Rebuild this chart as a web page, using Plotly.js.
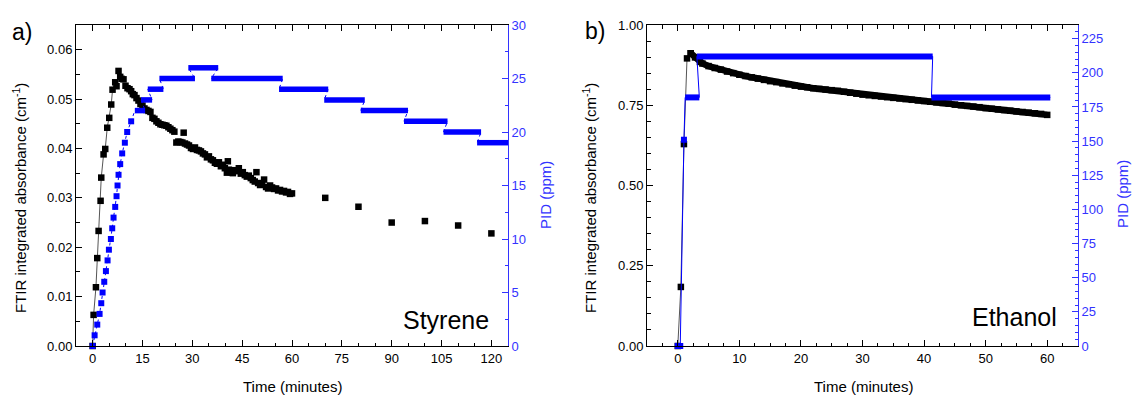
<!DOCTYPE html>
<html><head><meta charset="utf-8">
<script src="https://cdn.plot.ly/plotly-3.0.1.min.js"></script>
<style>html,body{margin:0;padding:0;background:#fff}#chart{width:1132px;height:395px}</style>
</head><body><div id="chart"></div>
<script>
// ---------- Panel a: Styrene ----------
const styreneT = [0, 0.3, 1.0, 1.4, 1.8, 2.4, 2.6, 3.3, 3.8, 4.4, 5.0, 5.6, 6.0, 6.8, 7.2, 7.8,
  8.3, 8.7, 9.3, 9.9, 10.5, 11.1, 11.6, 12.1, 12.6, 13.2, 13.8, 14.4, 15.0, 15.6, 16.2, 16.8, 17.4,
  18.0, 18.6, 19.2, 19.8, 20.4, 21.0, 21.6, 22.2, 22.8, 23.4, 24.0, 24.6, 25.2, 25.8, 26.4, 27.0,
  27.4, 27.8, 28.4, 29.0, 29.6, 30.2, 30.8, 31.4, 32.0, 32.6, 33.2, 33.8, 34.4, 35.0, 35.6, 36.2,
  36.8, 37.4, 38.0, 38.6, 39.2, 39.8, 40.4, 40.7, 41.0, 41.6, 42.2, 42.8, 43.4, 44.0, 44.6, 45.2,
  45.8, 46.4, 47.0, 47.6, 48.2, 48.8, 49.3, 49.8, 50.4, 51.0, 51.6, 52.2, 52.8, 53.4, 54.0, 54.6,
  55.2, 55.8, 56.4, 57.0, 57.6, 58.2, 58.8, 59.4, 60.0];
const styreneV = [0.0000, 0.0063, 0.0119, 0.0178, 0.0233, 0.0294, 0.0341, 0.0388, 0.0399, 0.0442,
  0.0462, 0.0489, 0.0519, 0.0534, 0.0526, 0.0557,
  0.0545, 0.0541, 0.0540, 0.0527, 0.0522, 0.0520, 0.0516, 0.0510, 0.0508, 0.0502, 0.0497, 0.0490,
  0.0487, 0.0481, 0.0478, 0.0476, 0.0474, 0.0462, 0.0460, 0.0455, 0.0452, 0.0449, 0.0448, 0.0447,
  0.0446, 0.0443, 0.0440, 0.0437, 0.0434, 0.0412, 0.0414, 0.0413, 0.0412, 0.0432, 0.0410, 0.0408,
  0.0406, 0.0401, 0.0399, 0.0402, 0.0397, 0.0396, 0.0394, 0.0390, 0.0388, 0.0382, 0.0384, 0.0378,
  0.0376, 0.0371, 0.0369, 0.0372, 0.0364, 0.0367, 0.0360, 0.0351, 0.0374, 0.0357, 0.0352, 0.0350,
  0.0356, 0.0354, 0.0360, 0.0349, 0.0352, 0.0346, 0.0343, 0.0345, 0.0340, 0.0336, 0.0333, 0.0352,
  0.0330, 0.0326, 0.0329, 0.0337, 0.0322, 0.0319, 0.0325, 0.0321, 0.0318, 0.0319, 0.0315, 0.0316,
  0.0313, 0.0314, 0.0311, 0.0312, 0.0308, 0.0309];
const styreneLateT = [70, 80, 90, 100, 110, 120];
const styreneLateV = [0.0300, 0.0282, 0.0250, 0.0253, 0.0244, 0.0228];
const styrenePeakIndex = 15;

const styrenePidRampT = [0, 0.6, 1.4, 2.1, 2.6, 3.0, 3.5, 4.0, 4.5, 4.9, 5.5, 5.9, 6.3, 6.8, 7.2, 7.5, 7.8, 8.3, 8.9, 9.7, 10.4, 11.6];
const styrenePidRampV = [0, 1, 2, 3, 4, 5, 6, 7, 8, 9, 10, 11, 12, 13, 14, 15, 16, 17, 18, 19, 20, 21];
const styrenePidStepStart = [12.7, 14.6, 16.6, 20.1, 28.8, 35.7, 56.1, 69.7, 80.7, 93.7, 105.6, 115.7];
const styrenePidStepEnd   = [15.8, 17.9, 21.3, 30.8, 37.8, 57.2, 70.9, 81.9, 94.9, 106.8, 116.9, 125];
const styrenePidStepV     = [22, 23, 24, 25, 26, 25, 24, 23, 22, 21, 20, 19];

// ---------- Panel b: Ethanol ----------
const ethanolRiseT = [0, 0.5, 1.0, 1.5, 2.1];
const ethanolRiseV = [0.000, 0.184, 0.629, 0.896, 0.912];
const ethanolT = [2.1, 2.8, 3.6, 4, 5, 6, 7, 8, 9, 10, 11, 12, 13, 14, 15, 16, 17, 18, 19, 20, 21, 22,
  23, 24, 25, 26, 27, 28, 29, 30, 31, 32, 33, 34, 35, 36, 37, 38, 39, 40, 41, 42, 43, 44, 45, 46, 47,
  48, 49, 50, 51, 52, 53, 54, 55, 56, 57, 58, 59, 60];
const ethanolV = [0.912, 0.899, 0.885, 0.880, 0.872, 0.866, 0.861, 0.855, 0.850, 0.845, 0.841, 0.837,
  0.833, 0.829, 0.825, 0.822, 0.818, 0.815, 0.811, 0.808, 0.806, 0.803, 0.801, 0.799, 0.797, 0.795,
  0.792, 0.789, 0.786, 0.783, 0.781, 0.779, 0.777, 0.775, 0.773, 0.771, 0.769, 0.767, 0.765, 0.763,
  0.761, 0.759, 0.757, 0.755, 0.752, 0.750, 0.748, 0.746, 0.744, 0.741, 0.739, 0.737, 0.735, 0.733,
  0.731, 0.729, 0.727, 0.725, 0.723, 0.720];
const ethanolPidRampT = [0, 0.4, 1.0];
const ethanolPidRampV = [0, 0, 151];
const ethanolPidStepStart = [1.2, 3.1, 41.2];
const ethanolPidStepEnd   = [3.5, 41.4, 60.5];
const ethanolPidStepV     = [182, 212, 182];

// ---------- helpers ----------
const BLUE = '#0000ff';
const AXBLUE = '#3333ff';
const FONT = '"Liberation Sans", Arial, Helvetica, sans-serif';

function segments(s, e, v) {
  const x = [], y = [];
  for (let i = 0; i < s.length; i++) { x.push(s[i], e[i], null); y.push(v[i], v[i], null); }
  return {x, y};
}
function connector(rt, rv, s, e, v) {
  const x = rt.slice(), y = rv.slice();
  for (let i = 0; i < s.length; i++) { x.push(s[i], e[i]); y.push(v[i], v[i]); }
  return {x, y};
}

const segA = segments(styrenePidStepStart, styrenePidStepEnd, styrenePidStepV);
const conA = connector(styrenePidRampT, styrenePidRampV, styrenePidStepStart, styrenePidStepEnd, styrenePidStepV);
const segB = segments(ethanolPidStepStart, ethanolPidStepEnd, ethanolPidStepV);
const conB = connector(ethanolPidRampT, ethanolPidRampV, ethanolPidStepStart, ethanolPidStepEnd, ethanolPidStepV);

const traces = [
  // Panel a
  {x: styreneT.slice(0, styrenePeakIndex + 1), y: styreneV.slice(0, styrenePeakIndex + 1), xaxis: 'x', yaxis: 'y',
   mode: 'lines', line: {color: '#555', width: 1}, hoverinfo: 'skip'},
  {x: styreneT.concat(styreneLateT), y: styreneV.concat(styreneLateV), xaxis: 'x', yaxis: 'y',
   mode: 'markers', marker: {symbol: 'square', size: 6.5, color: '#000'}, cliponaxis: false},
  {x: conA.x, y: conA.y, xaxis: 'x', yaxis: 'y2', mode: 'lines', line: {color: BLUE, width: 1, dash: 'dot'}},
  {x: segA.x, y: segA.y, xaxis: 'x', yaxis: 'y2', mode: 'lines', line: {color: BLUE, width: 5.5}},
  {x: styrenePidRampT, y: styrenePidRampV, xaxis: 'x', yaxis: 'y2', mode: 'markers',
   marker: {symbol: 'square', size: 6, color: BLUE}, cliponaxis: false},
  // Panel b
  {x: ethanolRiseT, y: ethanolRiseV, xaxis: 'x2', yaxis: 'y3', mode: 'lines+markers',
   line: {color: '#555', width: 1}, marker: {symbol: 'square', size: 6.5, color: '#000'}, cliponaxis: false},
  {x: ethanolT, y: ethanolV, xaxis: 'x2', yaxis: 'y3', mode: 'lines+markers',
   line: {color: '#000', width: 6.5}, marker: {symbol: 'square', size: 6.5, color: '#000'}},
  {x: conB.x, y: conB.y, xaxis: 'x2', yaxis: 'y4', mode: 'lines', line: {color: BLUE, width: 1}},
  {x: segB.x, y: segB.y, xaxis: 'x2', yaxis: 'y4', mode: 'lines', line: {color: BLUE, width: 6}},
  {x: ethanolPidRampT, y: ethanolPidRampV, xaxis: 'x2', yaxis: 'y4', mode: 'markers',
   marker: {symbol: 'square', size: 6, color: BLUE}, cliponaxis: false}
];

const W = 1132, H = 395;
const yDom = [1 - 346 / H, 1 - 25 / H];
function xAxis(domain, range, dtick, minor, anchor) {
  return {domain, range, anchor, dtick, tick0: 0, ticks: 'inside', ticklen: 6, tickwidth: 1, tickcolor: '#000',
    showline: true, linecolor: '#000', linewidth: 1, mirror: 'ticks', showgrid: false, zeroline: false,
    automargin: false, tickfont: {family: FONT, size: 13, color: '#000'},
    minor: {dtick: minor, tick0: 0, ticks: 'inside', ticklen: 3.5, tickcolor: '#000', showgrid: false}};
}
function yAxis(range, dtick, minor, anchor, fmt, color, side, overlaying) {
  const a = {domain: yDom, range, anchor, dtick, tick0: 0, ticks: 'inside', ticklen: 6, tickwidth: 1, tickcolor: color,
    showline: true, linecolor: color, linewidth: 1, mirror: false, showgrid: false, zeroline: false,
    automargin: false, tickfont: {family: FONT, size: 13, color}, side,
    minor: {dtick: minor, tick0: 0, ticks: 'inside', ticklen: 3.5, tickcolor: color, showgrid: false}};
  if (fmt) a.tickformat = fmt;
  if (overlaying) a.overlaying = overlaying;
  return a;
}
function ann(px, py, text, size, color, angle, xanchor) {
  return {x: px / W, y: 1 - py / H, xref: 'paper', yref: 'paper', text, showarrow: false,
    font: {family: FONT, size, color}, textangle: angle || 0, xanchor: xanchor || 'center', yanchor: 'middle'};
}

const layout = {
  width: W, height: H, margin: {l: 0, r: 0, t: 0, b: 0}, showlegend: false,
  paper_bgcolor: '#fff', plot_bgcolor: '#fff', font: {family: FONT},
  xaxis: xAxis([76 / W, 508 / W], [-5, 125], 15, 5, 'y'),
  yaxis: yAxis([0, 0.065], 0.01, 0.005, 'x', '.2f', '#000', 'left'),
  yaxis2: yAxis([0, 30], 5, 2.5, 'x', null, AXBLUE, 'right', 'y'),
  xaxis2: xAxis([647 / W, 1078 / W], [-5, 65], 10, 2.5, 'y3'),
  yaxis3: yAxis([0, 1], 0.25, 0.05, 'x2', '.2f', '#000', 'left'),
  yaxis4: yAxis([0, 235], 25, 5, 'x2', null, AXBLUE, 'right', 'y3'),
  annotations: [
    ann(22, 32, 'a)', 23, '#000'),
    ann(595, 31, 'b)', 23, '#000'),
    ann(491, 320, 'Styrene', 25, '#000', 0, 'right'),
    ann(1059, 317, 'Ethanol', 25, '#000', 0, 'right'),
    ann(19, 198, 'FTIR integrated absorbance (cm<sup>-1</sup>)', 15, '#000', -90),
    ann(589, 198, 'FTIR integrated absorbance (cm<sup>-1</sup>)', 15, '#000', -90),
    ann(545, 195, 'PID (ppm)', 15, AXBLUE, -90),
    ann(1123, 194, 'PID (ppm)', 15, AXBLUE, -90),
    ann(292, 386, 'Time (minutes)', 15, '#000'),
    ann(863, 386, 'Time (minutes)', 15, '#000')
  ]
};

Plotly.newPlot('chart', traces, layout, {displayModeBar: false, staticPlot: true});
</script>
</body></html>
